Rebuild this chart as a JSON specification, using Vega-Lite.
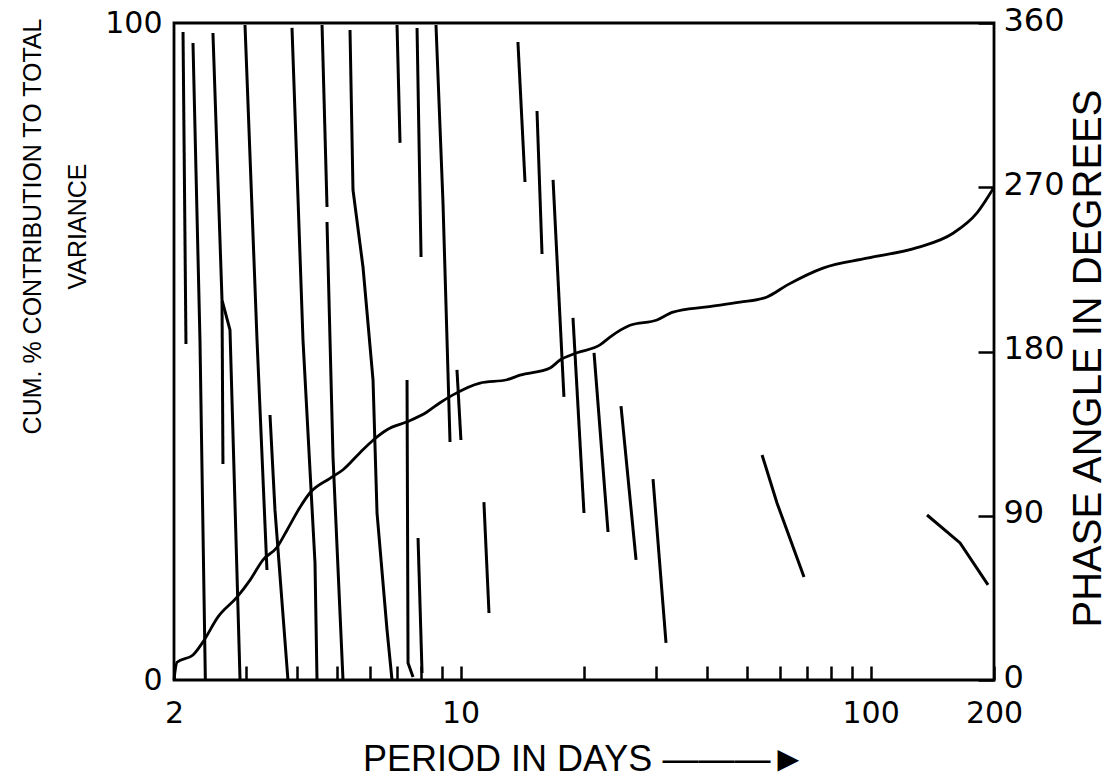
{
  "$schema": "https://vega.github.io/schema/vega-lite/v6.json",
  "width": 820,
  "height": 657,
  "autosize": {"type": "none"},
  "padding": {"left": 174, "top": 23, "right": 119, "bottom": 98},
  "background": "white",
  "config": {
    "view": {"stroke": "black", "strokeWidth": 2.8},
    "axis": {"grid": false, "domain": false, "labelColor": "black", "titleColor": "black", "tickColor": "black", "titleFontWeight": "normal", "labelOverlap": false, "labelFlush": false}
  },
  "datasets": {
    "curve": [
      {"period": 2.0, "cum": 0}, {"period": 2.034, "cum": 2.7}, {"period": 2.225, "cum": 3.8}, {"period": 2.354, "cum": 5.8},
      {"period": 2.561, "cum": 9.6}, {"period": 2.849, "cum": 12.6}, {"period": 3.065, "cum": 15.2}, {"period": 3.297, "cum": 18.3},
      {"period": 3.567, "cum": 20.2}, {"period": 3.773, "cum": 22.8}, {"period": 4.059, "cum": 26.3}, {"period": 4.293, "cum": 28.5},
      {"period": 4.804, "cum": 30.7}, {"period": 5.167, "cum": 32.0}, {"period": 5.684, "cum": 34.6}, {"period": 6.116, "cum": 36.5},
      {"period": 6.616, "cum": 38.1}, {"period": 7.403, "cum": 39.3}, {"period": 8.282, "cum": 40.8}, {"period": 8.909, "cum": 42.2},
      {"period": 9.583, "cum": 43.4}, {"period": 11.15, "cum": 45.2}, {"period": 12.98, "cum": 45.7}, {"period": 13.96, "cum": 46.4},
      {"period": 16.53, "cum": 47.5}, {"period": 17.48, "cum": 48.7}, {"period": 19.23, "cum": 49.8}, {"period": 21.88, "cum": 51.0},
      {"period": 23.14, "cum": 52.2}, {"period": 25.9, "cum": 54.0}, {"period": 30.13, "cum": 54.8}, {"period": 32.97, "cum": 56.0},
      {"period": 39.91, "cum": 56.8}, {"period": 48.03, "cum": 57.5}, {"period": 55.9, "cum": 58.3}, {"period": 62.54, "cum": 60.1},
      {"period": 76.54, "cum": 62.7}, {"period": 97.98, "cum": 64.2}, {"period": 129.8, "cum": 65.8}, {"period": 158.9, "cum": 68.0},
      {"period": 181.8, "cum": 71.1}, {"period": 200, "cum": 75.0}
    ],
    "phase": [
      {"s": "S1", "period": 2.104, "phase": 355.1}, {"s": "S1", "period": 2.139, "phase": 184.1},
      {"s": "S2", "period": 2.225, "phase": 349.0}, {"s": "S2", "period": 2.314, "phase": 186.3}, {"s": "S2", "period": 2.385, "phase": 0},
      {"s": "S3", "period": 2.489, "phase": 354.5}, {"s": "S3", "period": 2.619, "phase": 208.2}, {"s": "S3", "period": 2.739, "phase": 191.8}, {"s": "S3", "period": 2.898, "phase": 0},
      {"s": "S3x", "period": 2.619, "phase": 207.7}, {"s": "S3x", "period": 2.633, "phase": 118.4},
      {"s": "S4", "period": 2.98, "phase": 358.9}, {"s": "S4", "period": 3.188, "phase": 186.3}, {"s": "S4", "period": 3.371, "phase": 60.3},
      {"s": "S4b", "period": 3.429, "phase": 145.2}, {"s": "S4b", "period": 3.526, "phase": 93.2}, {"s": "S4b", "period": 3.793, "phase": 0},
      {"s": "S5", "period": 3.88, "phase": 357.3}, {"s": "S5", "period": 4.127, "phase": 186.3}, {"s": "S5", "period": 4.415, "phase": 64.1}, {"s": "S5", "period": 4.465, "phase": 0},
      {"s": "S6a", "period": 4.593, "phase": 358.9}, {"s": "S6a", "period": 4.723, "phase": 259.2},
      {"s": "S6b", "period": 4.723, "phase": 251.0}, {"s": "S6b", "period": 4.885, "phase": 122.2}, {"s": "S6b", "period": 5.167, "phase": 0},
      {"s": "S7", "period": 5.374, "phase": 356.2}, {"s": "S7", "period": 5.465, "phase": 268.5}, {"s": "S7", "period": 5.781, "phase": 226.3}, {"s": "S7", "period": 6.116, "phase": 164.4}, {"s": "S7", "period": 6.255, "phase": 91.5}, {"s": "S7", "period": 6.616, "phase": 27.4}, {"s": "S7", "period": 6.804, "phase": 0},
      {"s": "S8", "period": 6.998, "phase": 358.9}, {"s": "S8", "period": 7.117, "phase": 294.3},
      {"s": "S9", "period": 7.831, "phase": 357.3}, {"s": "S9", "period": 8.009, "phase": 231.8},
      {"s": "S10", "period": 8.71, "phase": 358.9}, {"s": "S10", "period": 9.06, "phase": 261.4}, {"s": "S10", "period": 9.424, "phase": 130.4},
      {"s": "S11", "period": 9.799, "phase": 169.9}, {"s": "S11", "period": 10.02, "phase": 131.5},
      {"s": "S12", "period": 7.403, "phase": 164.4}, {"s": "S12", "period": 7.445, "phase": 9.3}, {"s": "S12", "period": 7.656, "phase": 1.6},
      {"s": "S13", "period": 7.875, "phase": 77.8}, {"s": "S13", "period": 8.054, "phase": 3.8},
      {"s": "A", "period": 13.8, "phase": 349.6}, {"s": "A", "period": 14.36, "phase": 272.9},
      {"s": "B", "period": 15.36, "phase": 311.8}, {"s": "B", "period": 15.8, "phase": 233.4},
      {"s": "C", "period": 16.81, "phase": 274.0}, {"s": "C", "period": 17.87, "phase": 155.1},
      {"s": "D", "period": 18.8, "phase": 198.4}, {"s": "D", "period": 20.0, "phase": 91.5},
      {"s": "E", "period": 21.16, "phase": 179.2}, {"s": "E", "period": 22.89, "phase": 81.1},
      {"s": "F", "period": 24.62, "phase": 150.1}, {"s": "F", "period": 26.79, "phase": 65.8},
      {"s": "G", "period": 29.47, "phase": 110.1}, {"s": "G", "period": 31.7, "phase": 20.3},
      {"s": "H", "period": 11.4, "phase": 97.5}, {"s": "H", "period": 11.73, "phase": 36.7},
      {"s": "K1", "period": 54.37, "phase": 123.3}, {"s": "K1", "period": 59.12, "phase": 97.0}, {"s": "K1", "period": 68.81, "phase": 56.4},
      {"s": "K2", "period": 137.3, "phase": 90.4}, {"s": "K2", "period": 165.3, "phase": 75.1}, {"s": "K2", "period": 193.4, "phase": 52.1}
    ]
  },
  "layer": [
    {
      "data": {"name": "curve"},
      "mark": {"type": "line", "color": "black", "strokeWidth": 2.8, "interpolate": "monotone"},
      "encoding": {
        "x": {
          "field": "period", "type": "quantitative",
          "scale": {"type": "log", "domain": [2, 200], "nice": false},
          "axis": {
            "values": [2, 3, 4, 5, 6, 7, 8, 9, 10, 20, 30, 40, 50, 60, 70, 80, 90, 100, 200],
            "labelExpr": "datum.value == 2 || datum.value == 10 || datum.value == 100 || datum.value == 200 ? format(datum.value, 'd') : ''",
            "tickSize": -14, "tickWidth": 2.5, "labelPadding": 32,
            "labelFont": "DejaVu Sans", "labelFontSize": 30,
            "title": "PERIOD IN DAYS ———►",
            "titleFont": "Liberation Sans", "titleFontSize": 36,
            "titleBaseline": "alphabetic", "titleY": 90
          }
        },
        "y": {
          "field": "cum", "type": "quantitative",
          "scale": {"domain": [0, 100], "nice": false},
          "axis": {
            "orient": "left", "values": [0, 100], "ticks": false,
            "labelFont": "DejaVu Sans", "labelFontSize": 30, "labelPadding": 12,
            "title": ["CUM. % CONTRIBUTION TO TOTAL", "VARIANCE"],
            "titleFont": "Liberation Sans", "titleFontSize": 25,
            "titleAngle": -90, "titleAlign": "center", "titleBaseline": "alphabetic",
            "titleX": -134, "titleY": 203, "titleLineHeight": 45
          }
        }
      }
    },
    {
      "data": {"name": "phase"},
      "mark": {"type": "line", "color": "black", "strokeWidth": 3},
      "encoding": {
        "x": {"field": "period", "type": "quantitative", "scale": {"type": "log", "domain": [2, 200], "nice": false}},
        "y": {
          "field": "phase", "type": "quantitative",
          "scale": {"domain": [0, 360], "nice": false},
          "axis": {
            "orient": "right", "values": [0, 90, 180, 270, 360],
            "tickSize": -16, "tickWidth": 2.5, "labelPadding": 25, "labelOffset": -3,
            "labelFont": "DejaVu Sans", "labelFontSize": 32,
            "title": "PHASE   ANGLE   IN   DEGREES",
            "titleFont": "Liberation Sans", "titleFontSize": 40,
            "titleAngle": -90, "titleAlign": "center", "titleBaseline": "alphabetic",
            "titleX": 106, "titleY": 335
          }
        },
        "detail": {"field": "s", "type": "nominal"}
      }
    }
  ],
  "resolve": {"scale": {"y": "independent"}, "axis": {"y": "independent"}}
}
